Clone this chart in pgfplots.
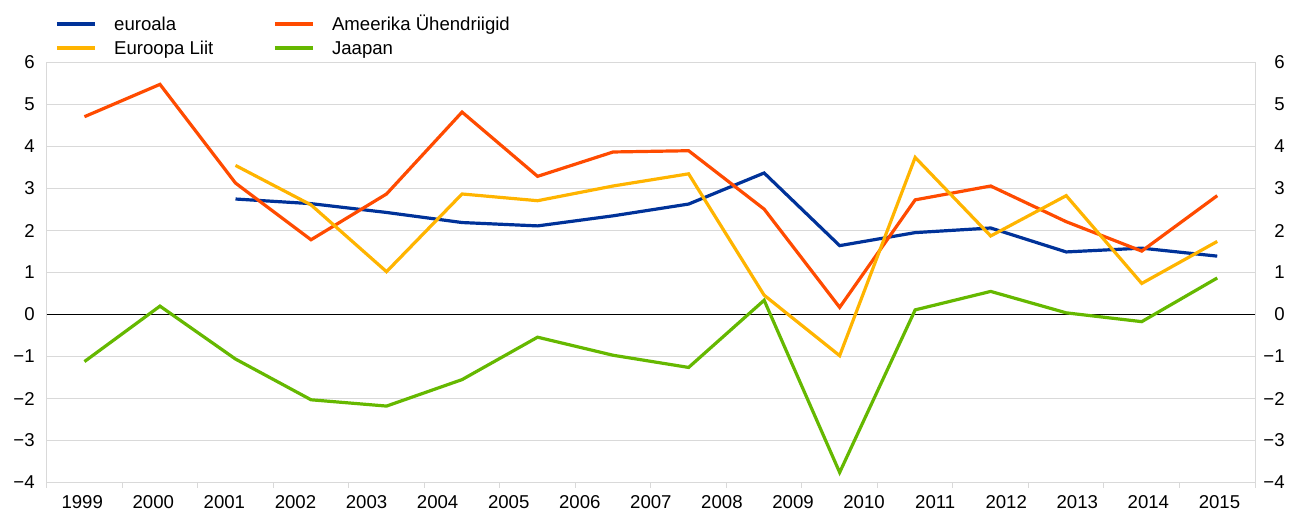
\documentclass[border=0pt]{standalone}
\usepackage{fontspec}
\setmainfont{Liberation Sans}
\usepackage{pgfplots}
\pgfplotsset{compat=1.18}
\definecolor{ecbblue}{RGB}{0,50,153}
\definecolor{ecbyellow}{RGB}{255,180,0}
\definecolor{ecborange}{RGB}{255,75,0}
\definecolor{ecbgreen}{RGB}{101,184,0}
\definecolor{gridgray}{RGB}{217,217,217}
\newcommand{\lf}{\fontsize{9.3}{11}\selectfont}
\begin{document}
\begin{tikzpicture}
\useasboundingbox (0,0) rectangle (644.5pt,255.5pt);
\begin{axis}[
  at={(23.35pt,14.25pt)}, anchor=south west,
  scale only axis, width=604.15pt, height=210pt,
  xmin=-0.5, xmax=15.5, ymin=-4, ymax=6,
  xtick={-0.029412,0.911765,1.852941,2.794118,3.735294,4.676471,5.617647,6.558824,7.5,8.441176,9.382353,10.323529,11.264706,12.205882,13.147059,14.088235,15.029412},
  xticklabels={1999,2000,2001,2002,2003,2004,2005,2006,2007,2008,2009,2010,2011,2012,2013,2014,2015},
  minor xtick={-0.5,0.5,...,15.5},
  xtick pos=bottom, ytick pos=left,
  tick align=outside,
  major tick length=0pt, minor tick length=2.5pt,
  minor tick style={gridgray, line width=0.5pt},
  ytick={-4,-3,...,6},
  yticklabels={−4,−3,−2,−1,0,1,2,3,4,5,6},
  xticklabel style={anchor=north, inner sep=0pt, yshift=-6.25pt, font=\lf},
  yticklabel style={anchor=east, inner sep=0pt, xshift=-5.85pt, font=\lf},
  ymajorgrids, major grid style={gridgray, line width=0.5pt},
  axis line style={gridgray, line width=0.5pt},
  extra y ticks={0}, extra y tick labels={},
  extra y tick style={grid=major, major grid style={black, line width=0.7pt}},
  legend columns=2,
  legend cell align=left,
  legend image code/.code={\draw[#1] (0pt,-0.6pt) -- (19.2pt,-0.6pt);},
  legend style={at={(0.0071,1.0186)}, anchor=south west, draw=none, fill=none,
    inner sep=0pt, outer sep=0pt, row sep=4pt,
    nodes={inner sep=0pt, text height=8pt, text depth=0pt, font=\lf},
    /tikz/every odd column/.append style={column sep=8.65pt}},
  every axis plot/.append style={line width=1.6pt},
  clip=false,
]
\addplot[ecbblue] coordinates {(2,2.75)(3,2.64)(4,2.43)(5,2.19)(6,2.11)(7,2.35)(8,2.63)(9,3.37)(10,1.64)(11,1.95)(12,2.06)(13,1.49)(14,1.58)(15,1.39)};
\addlegendentry{\makebox[79.5pt][l]{euroala}}
\addplot[ecborange] coordinates {(0,4.71)(1,5.48)(2,3.13)(3,1.78)(4,2.87)(5,4.82)(6,3.29)(7,3.87)(8,3.9)(9,2.51)(10,0.17)(11,2.73)(12,3.06)(13,2.21)(14,1.51)(15,2.83)};
\addlegendentry{Ameerika Ühendriigid}
\addplot[ecbyellow] coordinates {(2,3.55)(3,2.61)(4,1.02)(5,2.87)(6,2.71)(7,3.06)(8,3.35)(9,0.46)(10,-0.98)(11,3.74)(12,1.87)(13,2.83)(14,0.74)(15,1.74)};
\addlegendentry{\makebox[79.5pt][l]{Euroopa Liit}}
\addplot[ecbgreen] coordinates {(0,-1.12)(1,0.2)(2,-1.06)(3,-2.03)(4,-2.18)(5,-1.55)(6,-0.54)(7,-0.97)(8,-1.26)(9,0.34)(10,-3.76)(11,0.11)(12,0.55)(13,0.04)(14,-0.17)(15,0.87)};
\addlegendentry{Jaapan}
\end{axis}
\begin{axis}[
  at={(23.35pt,14.25pt)}, anchor=south west,
  scale only axis, width=604.15pt, height=210pt,
  xmin=-0.5, xmax=15.5, ymin=-4, ymax=6,
  axis y line*=right, hide x axis,
  axis line style={draw=none},
  ytick={-4,-3,...,6},
  yticklabels={−4,−3,−2,−1,0,1,2,3,4,5,6},
  major tick length=0pt,
  yticklabel style={anchor=east, inner sep=0pt, xshift=15pt, font=\lf},
]
\end{axis}
\end{tikzpicture}
\end{document}
